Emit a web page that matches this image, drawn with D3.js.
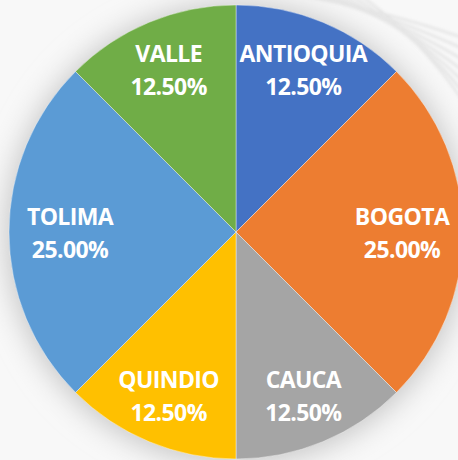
<!DOCTYPE html>
<html>
<head>
<meta charset="utf-8">
<script src="https://cdn.jsdelivr.net/npm/d3@7"></script>
<style>
  html, body { margin: 0; padding: 0; background: #f6f6f6; overflow: hidden; }
</style>
</head>
<body>
<div id="chart"></div>
<script>
// Chart data
var departments = ["ANTIOQUIA", "BOGOTA", "CAUCA", "QUINDIO", "TOLIMA", "VALLE"];
var shares = [12.5, 25, 12.5, 12.5, 25, 12.5];
var colors = ["#4472C4", "#ED7D31", "#A5A5A5", "#FFC000", "#5B9BD5", "#70AD47"];

var svgWidth = 458;
var svgHeight = 460;
var cx = 236, cy = 232, radius = 227;

var svg = d3.select("#chart")
  .append("svg")
  .attr("width", svgWidth)
  .attr("height", svgHeight);

var defs = svg.append("defs");

var shadow = defs.append("filter")
  .attr("id", "shadow")
  .attr("x", "-20%").attr("y", "-20%")
  .attr("width", "140%").attr("height", "140%");
shadow.append("feGaussianBlur").attr("stdDeviation", 14);

var soft = defs.append("filter").attr("id", "soft");
soft.append("feGaussianBlur").attr("stdDeviation", 1.5);

svg.append("rect")
  .attr("width", svgWidth)
  .attr("height", svgHeight)
  .attr("fill", "#f8f8f8");

// decorative faint swirl, top right
var curves = svg.append("g")
  .attr("fill", "none")
  .attr("stroke", "#d6d6d6")
  .attr("stroke-width", 2.5)
  .attr("opacity", 0.55)
  .attr("filter", "url(#soft)");
d3.range(7).forEach(function(i) {
  curves.append("path")
    .attr("d", "M" + (300 + i * 10) + ",-5 Q" + (390 + i * 6) + "," + (12 + i * 5) + " 470," + (40 + i * 12));
});

var chartGroup = svg.append("g")
  .attr("transform", `translate(${cx}, ${cy})`);

chartGroup.append("circle")
  .attr("r", radius + 4)
  .attr("cy", 2)
  .attr("fill", "#c8c8c8")
  .attr("filter", "url(#shadow)");

var pie = d3.pie()
  .sort(null)
  .value(d => d);

var arc = d3.arc()
  .innerRadius(0)
  .outerRadius(radius);

var arcs = pie(shares);

chartGroup.selectAll("path.slice")
  .data(arcs)
  .enter()
  .append("path")
  .attr("class", "slice")
  .attr("d", arc)
  .attr("fill", (d, i) => colors[i])
  .attr("stroke", "#ffffff")
  .attr("stroke-opacity", 0.4)
  .attr("stroke-width", 1);

// labels: bigger slices sit a bit closer to the centre
var labelArcSmall = d3.arc().innerRadius(176).outerRadius(176);
var labelArcBig = d3.arc().innerRadius(166).outerRadius(166);

var labels = chartGroup.selectAll("text.label")
  .data(arcs)
  .enter()
  .append("text")
  .attr("class", "label")
  .attr("transform", function(d) {
    var c = (d.value >= 25 ? labelArcBig : labelArcSmall).centroid(d);
    return `translate(${c[0]}, ${c[1]})`;
  })
  .attr("text-anchor", "middle")
  .attr("fill", "#ffffff")
  .style("font-family", "'Open Sans', sans-serif")
  .style("font-weight", "bold")
  .style("font-size", "23px")
  .style("letter-spacing", "-0.6px");

labels.append("tspan")
  .attr("x", 0)
  .attr("y", -7)
  .text((d, i) => departments[i]);

labels.append("tspan")
  .attr("x", 0)
  .attr("y", 26)
  .text(d => d3.format(".2f")(d.value) + "%");
</script>
</body>
</html>
